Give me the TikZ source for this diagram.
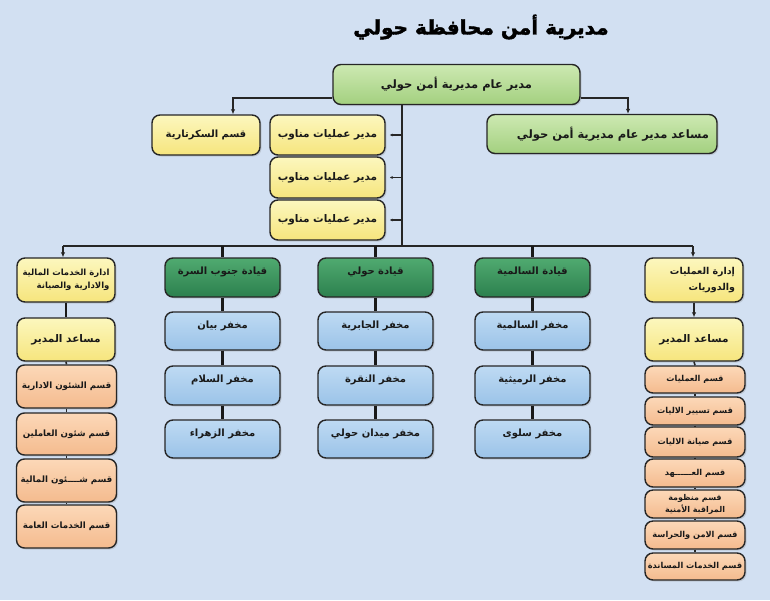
\documentclass[tikz,border=0pt]{standalone}
\usepackage{fontspec}
\usetikzlibrary{arrows.meta,shadows,calc}
\TeXXeTstate=1
\newfontfamily\arabicfont[Script=Arabic]{DejaVu Sans}
\newfontfamily\titlefont[Script=Arabic,FakeBold=2]{DejaVu Sans}
\newcommand{\artx}[1]{\beginR #1\endR}
\definecolor{bgc}{RGB}{210,224,242}
\definecolor{lgA}{RGB}{205,233,178}
\definecolor{lgB}{RGB}{163,208,127}
\definecolor{dgA}{RGB}{80,170,112}
\definecolor{dgB}{RGB}{44,128,78}
\definecolor{blA}{RGB}{190,218,243}
\definecolor{blB}{RGB}{155,195,232}
\definecolor{ywA}{RGB}{252,247,190}
\definecolor{ywB}{RGB}{246,229,125}
\definecolor{orA}{RGB}{252,216,184}
\definecolor{orB}{RGB}{244,187,142}
\tikzset{
  box/.style={draw=black!85, line width=1.4pt, rounded corners=8pt,
    font=\arabicfont\bfseries\fontsize{10}{13}\selectfont, text=black!90,
    inner sep=2pt, align=center,
    drop shadow={opacity=0.25, shadow xshift=1.5pt, shadow yshift=-1.5pt}},
  lgbox/.style={box, top color=lgA, bottom color=lgB},
  dgbox/.style={box, top color=dgA, bottom color=dgB, text height=8pt, text depth=14pt},
  blbox/.style={box, top color=blA, bottom color=blB, text height=8pt, text depth=14pt},
  ywbox/.style={box, top color=ywA, bottom color=ywB},
  orbox/.style={box, top color=orA, bottom color=orB},
  ln/.style={draw=black!85, line width=1.6pt},
  thk/.style={draw=black!90, line width=2.6pt},
  tip/.style={-{Latex[length=5pt,width=4.5pt]}},
  stub/.style={-{Latex[length=3pt,width=3pt]}},
}
\begin{document}
\begin{tikzpicture}[x=1pt,y=-1pt]
\useasboundingbox (0,0) rectangle (770,600);
\fill[bgc] (0,0) rectangle (770,600);

% title
\node[font=\titlefont\bfseries\fontsize{20}{24}\selectfont, text=black] (title) at (481,27) {\artx{مديرية أمن محافظة حولي}};

% top level
\node[lgbox, minimum width=247pt, minimum height=40pt, font=\arabicfont\bfseries\fontsize{11.5}{13}\selectfont] (top) at (456.5,84.5) {\artx{مدير عام مديرية أمن حولي}};
\node[lgbox, minimum width=230pt, minimum height=39pt, text width=214pt, align=right, font=\arabicfont\bfseries\fontsize{11.5}{13}\selectfont] (asst) at (602,134) {\artx{مساعد مدير عام مديرية أمن حولي}};
\node[ywbox, minimum width=108pt, minimum height=40pt] (sec) at (206,135) {\artx{قسم السكرتارية}};
\node[ywbox, minimum width=115pt, minimum height=40pt, font=\arabicfont\bfseries\fontsize{10.5}{13}\selectfont] (m1) at (327.5,135) {\artx{مدير عمليات مناوب}};
\node[ywbox, minimum width=115pt, minimum height=41pt, font=\arabicfont\bfseries\fontsize{10.5}{13}\selectfont] (m2) at (327.5,177.5) {\artx{مدير عمليات مناوب}};
\node[ywbox, minimum width=115pt, minimum height=40pt, font=\arabicfont\bfseries\fontsize{10.5}{13}\selectfont] (m3) at (327.5,220) {\artx{مدير عمليات مناوب}};

% coordinates
\coordinate (tl) at (233,98);
\coordinate (tr) at (628,98);
\coordinate (tk) at (402,246);
\coordinate (bl) at (63,246);
\coordinate (br) at (693,246);

% left column
\node[ywbox, minimum width=98pt, minimum height=44pt, align=right, font=\arabicfont\bfseries\fontsize{8.5}{13.5}\selectfont] (L0) at (66,280) {\artx{ادارة الخدمات المالية}\\\artx{والادارية والصيانة}};
\node[ywbox, minimum width=98pt, minimum height=43pt, font=\arabicfont\bfseries\fontsize{10.5}{13}\selectfont] (L1) at (66,339.5) {\artx{مساعد المدير}};
\node[orbox, minimum width=100pt, minimum height=43pt, font=\arabicfont\bfseries\fontsize{8.7}{12}\selectfont] (Lo1) at (66.5,386.5) {\artx{قسم الشئون الادارية}};
\node[orbox, minimum width=100pt, minimum height=42pt, font=\arabicfont\bfseries\fontsize{8.7}{12}\selectfont] (Lo2) at (66.5,434) {\artx{قسم شئون العاملين}};
\node[orbox, minimum width=100pt, minimum height=43pt, font=\arabicfont\bfseries\fontsize{8.7}{12}\selectfont] (Lo3) at (66.5,480.5) {\artx{قسم شــــئون المالية}};
\node[orbox, minimum width=100pt, minimum height=43pt, font=\arabicfont\bfseries\fontsize{8.7}{12}\selectfont] (Lo4) at (66.5,526.5) {\artx{قسم الخدمات العامة}};

% commands
\node[dgbox, minimum width=115pt, minimum height=39pt] (g1) at (222.5,277.5) {\artx{قيادة جنوب السرة}};
\node[dgbox, minimum width=115pt, minimum height=39pt] (g2) at (375.5,277.5) {\artx{قيادة حولي}};
\node[dgbox, minimum width=115pt, minimum height=39pt] (g3) at (532.5,277.5) {\artx{قيادة السالمية}};

\node[blbox, minimum width=115pt, minimum height=38pt] (b11) at (222.5,331) {\artx{مخفر بيان}};
\node[blbox, minimum width=115pt, minimum height=39pt] (b12) at (222.5,385.5) {\artx{مخفر السلام}};
\node[blbox, minimum width=115pt, minimum height=38pt] (b13) at (222.5,439) {\artx{مخفر الزهراء}};
\node[blbox, minimum width=115pt, minimum height=38pt] (b21) at (375.5,331) {\artx{مخفر الجابرية}};
\node[blbox, minimum width=115pt, minimum height=39pt] (b22) at (375.5,385.5) {\artx{مخفر النقرة}};
\node[blbox, minimum width=115pt, minimum height=38pt] (b23) at (375.5,439) {\artx{مخفر ميدان حولي}};
\node[blbox, minimum width=115pt, minimum height=38pt] (b31) at (532.5,331) {\artx{مخفر السالمية}};
\node[blbox, minimum width=115pt, minimum height=39pt] (b32) at (532.5,385.5) {\artx{مخفر الرميثية}};
\node[blbox, minimum width=115pt, minimum height=38pt] (b33) at (532.5,439) {\artx{مخفر سلوى}};

% right column
\node[ywbox, minimum width=98pt, minimum height=44pt, text width=82pt, align=right, font=\arabicfont\bfseries\fontsize{9.5}{16}\selectfont] (R0) at (694,280) {\artx{إدارة العمليات}\\\artx{والدوريات}};
\node[ywbox, minimum width=98pt, minimum height=43pt, font=\arabicfont\bfseries\fontsize{10.5}{13}\selectfont] (R1) at (694,339.5) {\artx{مساعد المدير}};
\tikzset{rsm/.style={orbox, minimum width=100pt, font=\arabicfont\bfseries\fontsize{8.2}{11}\selectfont, inner sep=1pt}}
\node[rsm, minimum height=27pt] (Ro1) at (695,379.5) {\artx{قسم العمليات}};
\node[rsm, minimum height=28pt] (Ro2) at (695,411) {\artx{قسم تسيير الاليات}};
\node[rsm, minimum height=30pt] (Ro3) at (695,442) {\artx{قسم صيانة الاليات}};
\node[rsm, minimum height=28pt] (Ro4) at (695,473) {\artx{قسم العــــــهد}};
\node[rsm, minimum height=28pt, font=\arabicfont\bfseries\fontsize{8}{12}\selectfont] (Ro5) at (695,504) {\artx{قسم منظومة}\\\artx{المراقبة الأمنية}};
\node[rsm, minimum height=28pt] (Ro6) at (695,535) {\artx{قسم الامن والحراسة}};
\node[rsm, minimum height=27pt] (Ro7) at (695,566.5) {\artx{قسم الخدمات المساندة}};

% connectors
\draw[ln,tip] (top.west |- tl) -- (tl) -- (tl |- sec.north);
\draw[ln,tip] (top.east |- tr) -- (tr) -- (tr |- asst.north);
\draw[ln] (top.south -| tk) -- (tk);
\draw[ln,stub] (m1.east -| tk) -- ([xshift=4pt]m1.east);
\draw[ln,stub] (m2.east -| tk) -- ([xshift=4pt]m2.east);
\draw[ln,stub] (m3.east -| tk) -- ([xshift=4pt]m3.east);
\draw[ln] (bl) -- (br);
\draw[ln,tip] (bl) -- (bl |- L0.north);
\draw[ln,tip] (br) -- (br |- R0.north);
\draw[thk] (g1.north |- bl) -- (g1.north);
\draw[thk] (g2.north |- bl) -- (g2.north);
\draw[thk] (g3.north |- bl) -- (g3.north);
\draw[thk] (g1.south) -- (b11.north);
\draw[thk] (b11.south) -- (b12.north);
\draw[thk] (b12.south) -- (b13.north);
\draw[thk] (g2.south) -- (b21.north);
\draw[thk] (b21.south) -- (b22.north);
\draw[thk] (b22.south) -- (b23.north);
\draw[thk] (g3.south) -- (b31.north);
\draw[thk] (b31.south) -- (b32.north);
\draw[thk] (b32.south) -- (b33.north);
\draw[thk] (L0.south) -- (L1.north);
\draw[ln] (L1.south) -- (Lo1.north);
\draw[ln] (Lo1.south) -- (Lo2.north);
\draw[ln] (Lo2.south) -- (Lo3.north);
\draw[ln] (Lo3.south) -- (Lo4.north);
\draw[ln,tip] (R0.south) -- (R1.north);
\draw[ln] (R1.south) -- (Ro1.north);
\draw[ln] (Ro1.south) -- (Ro2.north);
\draw[ln] (Ro2.south) -- (Ro3.north);
\draw[ln] (Ro3.south) -- (Ro4.north);
\draw[ln] (Ro4.south) -- (Ro5.north);
\draw[ln] (Ro5.south) -- (Ro6.north);
\draw[ln] (Ro6.south) -- (Ro7.north);
\end{tikzpicture}
\end{document}
